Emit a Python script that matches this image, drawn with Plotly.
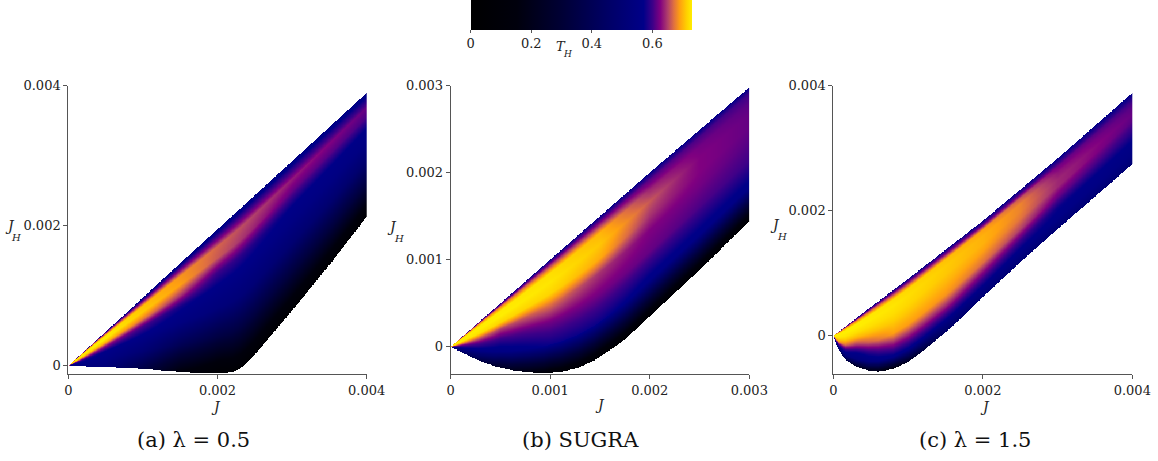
import numpy as np
import plotly.graph_objects as go

W, H = 1158, 461

# ---------------- data ----------------
# Panel (a) lambda = 0.5 : region boundaries (J, J_H)
A_UP_J = [0, 0.001, 0.002, 0.003, 0.004]
A_UP_JH = [0, 0.000975, 0.00195, 0.00292, 0.0039]
A_LO_J = [0, 0.0003, 0.0008, 0.0012, 0.0017, 0.00195, 0.0022, 0.0023, 0.00237, 0.0025, 0.003, 0.0035, 0.004]
A_LO_JH = [0, -0.00001, -0.00003, -0.00006, -0.0001, -0.00011, -0.00009, -0.00004, 0.00002, 0.00016, 0.00079, 0.00144, 0.00213]
# T_H estimated across the band (s = 0 upper edge, s = 1 lower edge)
A_TJ = [0, 0.0005, 0.001, 0.0015, 0.002, 0.003, 0.004]
A_TS = [0, 0.05, 0.12, 0.2, 0.3, 0.4, 0.55, 0.75, 1.0]
A_T = [
    [0.60, 0.70, 0.73, 0.73, 0.72, 0.68, 0.60, 0.56, 0.54],
    [0.55, 0.65, 0.728, 0.728, 0.70, 0.635, 0.57, 0.55, 0.52],
    [0.55, 0.62, 0.705, 0.71, 0.675, 0.605, 0.56, 0.50, 0.35],
    [0.55, 0.61, 0.685, 0.69, 0.645, 0.58, 0.54, 0.40, 0.15],
    [0.55, 0.60, 0.665, 0.66, 0.60, 0.565, 0.52, 0.34, 0.05],
    [0.55, 0.59, 0.635, 0.615, 0.57, 0.55, 0.49, 0.32, 0.05],
    [0.55, 0.58, 0.615, 0.605, 0.565, 0.55, 0.48, 0.32, 0.05],
]

# Panel (b) SUGRA
B_UP_J = [0, 0.001, 0.002, 0.003]
B_UP_JH = [0, 0.001, 0.002, 0.00298]
B_LO_J = [0, 0.00007, 0.000275, 0.00044, 0.00061, 0.00078, 0.00094, 0.00111, 0.00128, 0.00145, 0.00161, 0.00175, 0.002, 0.0025, 0.003]
B_LO_JH = [0, -0.00004, -0.000153, -0.000222, -0.000268, -0.000291, -0.000303, -0.000287, -0.000241, -0.000153, -0.00003, 0.000084, 0.00035, 0.00088, 0.00144]
B_TJ = [0, 0.0005, 0.001, 0.0015, 0.002, 0.0025, 0.003]
B_TS = [0, 0.05, 0.12, 0.2, 0.3, 0.4, 0.55, 0.75, 1.0]
B_T = [
    [0.60, 0.70, 0.73, 0.73, 0.73, 0.70, 0.62, 0.56, 0.50],
    [0.57, 0.67, 0.728, 0.73, 0.715, 0.65, 0.60, 0.55, 0.25],
    [0.57, 0.645, 0.72, 0.725, 0.715, 0.67, 0.62, 0.575, 0.10],
    [0.57, 0.63, 0.70, 0.708, 0.695, 0.645, 0.62, 0.575, 0.05],
    [0.57, 0.61, 0.64, 0.66, 0.645, 0.625, 0.615, 0.56, 0.05],
    [0.57, 0.605, 0.62, 0.625, 0.625, 0.62, 0.605, 0.56, 0.05],
    [0.57, 0.60, 0.61, 0.615, 0.615, 0.61, 0.60, 0.56, 0.05],
]

# Panel (c) lambda = 1.5
C_UP_J = [0, 0.0005, 0.001, 0.002, 0.003, 0.004]
C_UP_JH = [0, 0.00046, 0.00091, 0.00184, 0.00284, 0.00389]
C_LO_J = [0, 0.00007, 0.00016, 0.0003, 0.00047, 0.0006, 0.0008, 0.001, 0.0012, 0.0014, 0.0016, 0.002, 0.0025, 0.003, 0.0035, 0.004]
C_LO_JH = [0, -0.00022, -0.00038, -0.00049, -0.000555, -0.00057, -0.00053, -0.00042, -0.00024, -0.00004, 0.00016, 0.00062, 0.00118, 0.00171, 0.00223, 0.00275]
C_TJ = [0, 0.0003, 0.0008, 0.0015, 0.002, 0.0025, 0.003, 0.004]
C_TS = [0, 0.05, 0.12, 0.2, 0.3, 0.4, 0.55, 0.7, 0.85, 1.0]
C_T = [
    [0.60, 0.70, 0.73, 0.73, 0.73, 0.72, 0.70, 0.62, 0.56, 0.50],
    [0.57, 0.67, 0.73, 0.73, 0.72, 0.70, 0.645, 0.575, 0.53, 0.25],
    [0.57, 0.645, 0.72, 0.725, 0.72, 0.71, 0.69, 0.625, 0.56, 0.15],
    [0.57, 0.625, 0.705, 0.71, 0.708, 0.70, 0.685, 0.635, 0.57, 0.45],
    [0.57, 0.61, 0.69, 0.698, 0.698, 0.69, 0.67, 0.62, 0.57, 0.50],
    [0.57, 0.60, 0.66, 0.678, 0.678, 0.672, 0.65, 0.60, 0.56, 0.50],
    [0.57, 0.59, 0.62, 0.632, 0.64, 0.64, 0.615, 0.575, 0.56, 0.50],
    [0.57, 0.58, 0.60, 0.61, 0.615, 0.61, 0.59, 0.565, 0.55, 0.50],
]

# axis ranges and ticks
A_XR, A_YR = [0, 0.004], [-0.000119, 0.004]
B_XR, B_YR = [0, 0.003], [-0.000314, 0.003]
C_XR, C_YR = [0, 0.004], [-0.000613, 0.004]
A_TICKS = [0, 0.002, 0.004]
B_TICKS = [0, 0.001, 0.002, 0.003]
C_TICKS = [0, 0.002, 0.004]
CB_TICKS = [0, 0.2, 0.4, 0.6]
T_MAX = 0.73

CAPTIONS = ["(a) λ = 0.5", "(b) SUGRA", "(c) λ = 1.5"]

# colour map (T value, colour)
CMAP = [
    (0.0, "#000000"), (0.15, "#00000c"), (0.30, "#000035"), (0.45, "#000065"),
    (0.57, "#000088"), (0.60, "#3c0088"), (0.625, "#800080"), (0.65, "#b0406a"),
    (0.67, "#e07040"), (0.69, "#ffa010"), (0.712, "#ffd000"), (0.73, "#ffee00"),
]


def field(upj, upjh, loj, lojh, tj, ts, tv, xr, yr, nx=520, ny=520):
    x = np.linspace(xr[0], xr[1], nx)
    y = np.linspace(yr[0], yr[1], ny)
    up = np.interp(x, upj, upjh)
    lo = np.interp(x, loj, lojh)
    tv = np.asarray(tv, float)
    node = np.stack([np.interp(x, tj, tv[:, k]) for k in range(len(ts))], axis=1)
    z = np.full((ny, nx), np.nan)
    for i in range(nx):
        width = up[i] - lo[i]
        if width <= 0:
            continue
        s = (up[i] - y) / width
        inside = (s >= 0) & (s <= 1)
        z[inside, i] = np.interp(s[inside], ts, node[i])
    return x, y, np.round(z, 4)


def px_x(p):
    return p / W


def px_y(p):
    return 1 - p / H


DOMAINS = [
    ([68.3, 366.7], [85.7, 374]),
    ([450.7, 749.3], [85.7, 374]),
    ([833.3, 1132.3], [85.7, 374]),
]

fig = go.Figure()
panels = [
    (A_UP_J, A_UP_JH, A_LO_J, A_LO_JH, A_TJ, A_TS, A_T, A_XR, A_YR, A_TICKS),
    (B_UP_J, B_UP_JH, B_LO_J, B_LO_JH, B_TJ, B_TS, B_T, B_XR, B_YR, B_TICKS),
    (C_UP_J, C_UP_JH, C_LO_J, C_LO_JH, C_TJ, C_TS, C_T, C_XR, C_YR, C_TICKS),
]

tickfont = dict(family="DejaVu Serif", size=13, color="#222")
axcol = "#555555"

for k, (upj, upjh, loj, lojh, tj, ts, tv, xr, yr, ticks) in enumerate(panels):
    x, y, z = field(upj, upjh, loj, lojh, tj, ts, tv, xr, yr)
    xa = "x" if k == 0 else f"x{k+1}"
    ya = "y" if k == 0 else f"y{k+1}"
    fig.add_trace(go.Heatmap(x=x, y=y, z=z, coloraxis="coloraxis", xaxis=xa, yaxis=ya,
                             hoverinfo="skip"))
    dx, dy = DOMAINS[k]
    labels = ["0" if t == 0 else f"{t:g}" for t in ticks]
    common = dict(showgrid=False, zeroline=False, showline=True, linecolor=axcol, linewidth=1,
                  ticks="outside", ticklen=4, tickcolor=axcol, tickwidth=1, tickfont=tickfont,
                  tickvals=ticks, ticktext=labels, automargin=False)
    xkey = "xaxis" if k == 0 else f"xaxis{k+1}"
    ykey = "yaxis" if k == 0 else f"yaxis{k+1}"
    fig.update_layout({
        xkey: dict(domain=[px_x(dx[0]), px_x(dx[1])], range=xr, anchor=ya, **common),
        ykey: dict(domain=[px_y(dy[1]), px_y(dy[0])], range=yr, anchor=xa, **common),
    })

cscale = [[t / T_MAX, c] for t, c in CMAP]
fig.update_layout(
    coloraxis=dict(
        colorscale=cscale, cmin=0, cmax=T_MAX,
        colorbar=dict(orientation="h", x=px_x((470.7 + 691.7) / 2), xanchor="center",
                      y=1, yanchor="top", lenmode="pixels", len=221, thickness=30,
                      xpad=0, ypad=0, outlinewidth=0, ticks="outside", ticklen=3,
                      tickcolor=axcol, tickvals=CB_TICKS,
                      ticktext=["0" if t == 0 else f"{t:g}" for t in CB_TICKS],
                      tickfont=tickfont),
    ),
)

ann = []
serif = "DejaVu Serif"


def label(cx, cy, text, size, color="#222"):
    return dict(x=px_x(cx), y=px_y(cy), xref="paper", yref="paper", text=text,
                xanchor="center", yanchor="middle", showarrow=False,
                font=dict(family=serif, size=size, color=color))


for cx, cy in [(216, 407), (600, 405), (985, 407)]:
    ann.append(label(cx, cy, "<i>J</i>", 14))
for jx, jy, hx, hy in [(10, 226, 16, 237), (392, 227, 399, 238), (775, 225, 782, 236)]:
    ann.append(label(jx, jy, "<i>J</i>", 14))
    ann.append(label(hx, hy, "<i>H</i>", 10))
ann.append(label(561, 47, "<i>T</i>", 13))
ann.append(label(567, 54, "<i>H</i>", 9))
for cx, txt in zip([193, 580, 975], CAPTIONS):
    ann.append(label(cx, 440, txt, 21, "#111"))

fig.update_layout(
    width=W, height=H, autosize=False,
    margin=dict(l=0, r=0, t=0, b=0, autoexpand=False),
    paper_bgcolor="white", plot_bgcolor="white",
    annotations=ann, showlegend=False,
)

fig.write_html("out.html", config={"displayModeBar": False},
               post_script="document.body.style.margin='0';document.body.style.overflow='hidden';")
